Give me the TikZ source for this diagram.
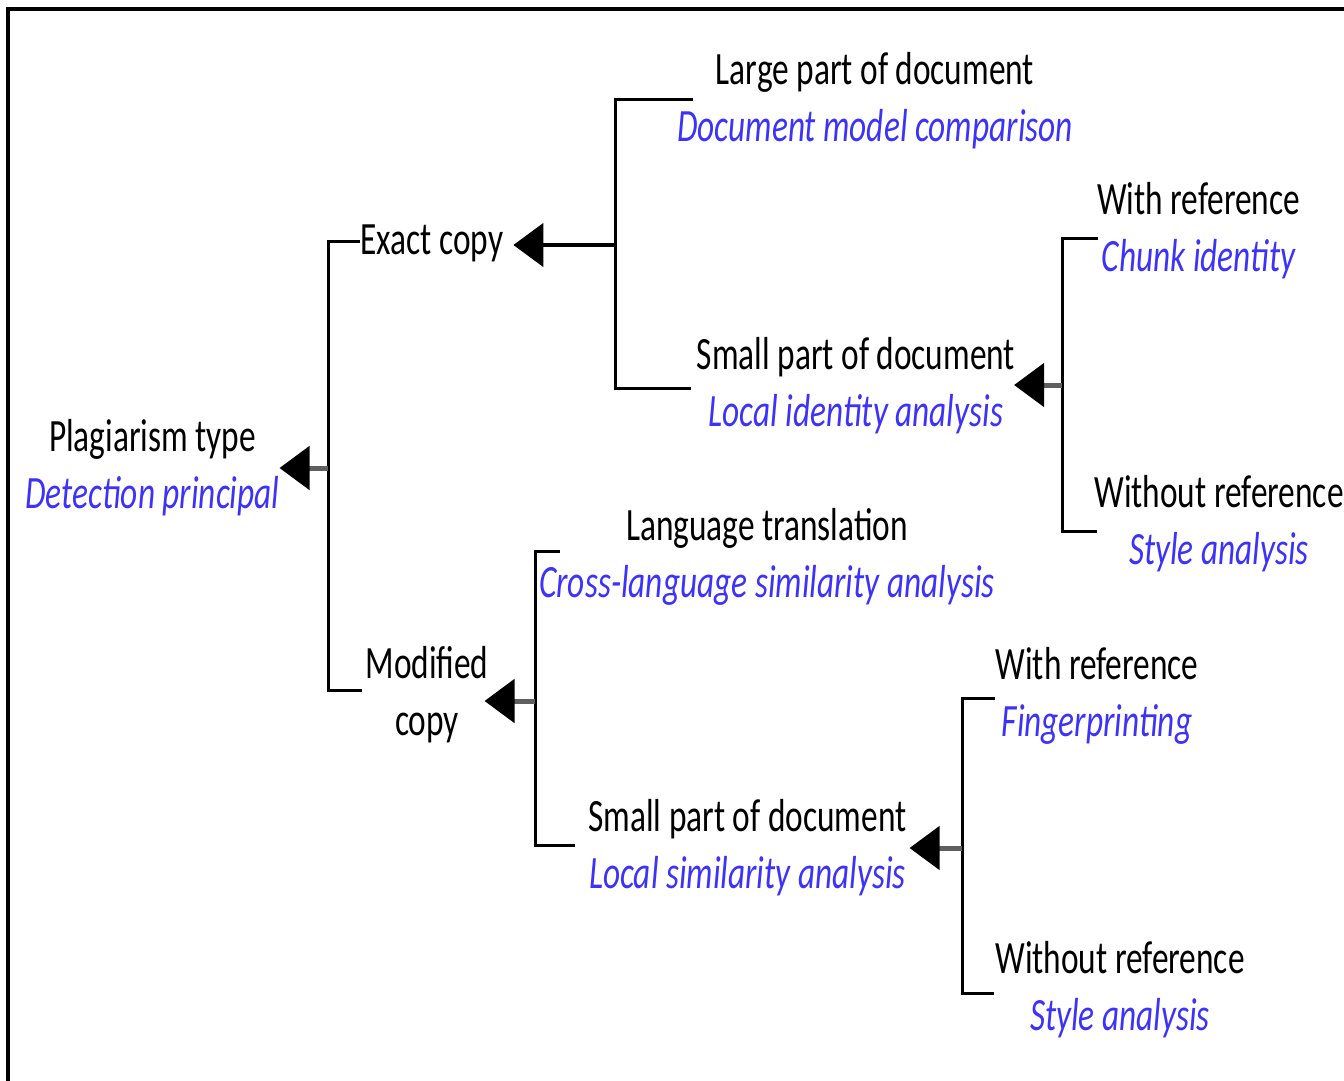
\documentclass[tikz,border=0pt]{standalone}
\usepackage{fontspec}
\setmainfont{Carlito}[FakeStretch=0.72]
\usetikzlibrary{arrows.meta,calc}
\definecolor{subblue}{RGB}{60,50,250}
\definecolor{shaftgray}{RGB}{95,95,95}
% title line in black, principle line in blue italics
\newcommand\twoline[2]{\strut #1\\\textcolor{subblue}{\itshape\strut #2}}

\begin{document}
\begin{tikzpicture}[x=1pt,y=-1pt,
  label/.style={inner sep=0pt, outer sep=0pt, align=center,
    font=\fontsize{46.3}{57}\selectfont},
  bar/.style={line width=3pt, line join=miter, line cap=butt},
  shaft/.style={line width=5pt, shaftgray,
    -{Triangle[length=30pt,width=43pt,color=black]}},
  frame/.style={line width=4pt}]

\clip (0,0) rectangle (1344,1081);
\draw[frame] (8,1100) -- (8,9) -- (1360,9);

% labels
\node[label] (root)     at (152.5,469) {\twoline{Plagiarism type}{Detection principal}};
\node[label] (exact)    at (432,243.5) {\strut Exact copy};
\node[label] (modified) at (427,696)   {\strut Modified\\\strut copy};
\node[label] (large)    at (875,102)   {\twoline{Large part of document}{Document model comparison}};
\node[label] (small1)   at (856,387)   {\twoline{Small part of document}{Local identity analysis}};
\node[label] (with1)    at (1198.5,232){\twoline{With reference}{Chunk identity}};
\node[label] (without1) at (1219,525)  {\twoline{Without reference}{Style analysis}};
\node[label] (lang)     at (767,558)   {\twoline{Language translation}{Cross-language similarity analysis}};
\node[label] (small2)   at (747.5,849) {\twoline{Small part of document}{Local similarity analysis}};
\node[label] (with2)    at (1097,697)  {\twoline{With reference}{Fingerprinting}};
\node[label] (without2) at (1120,991)  {\twoline{Without reference}{Style analysis}};

% branching points
\coordinate (j0) at (328,468);
\coordinate (j1) at (615,245);
\coordinate (j2) at (1062,385);
\coordinate (j3) at (535,701);
\coordinate (j4) at (962,848);

% brackets
\draw[bar] ($(exact.west)+(-1,-2.5)$) -| (j0) |- ($(modified.west)+(-4,-6)$);
\draw[bar] ($(large.west)+(16,-3)$) -| (j1) |- ($(small1.west)+(-6,1)$);
\draw[bar] ($(with1.west)+(1,6)$) -| (j2) |- ($(without1.west)+(3,6)$);
\draw[bar] ($(lang.west)+(21,-7)$) -| (j3) |- ($(small2.west)+(-13,-4)$);
\draw[bar] ($(with2.west)+(-1,1)$) -| (j4) |- ($(without2.west)+(-1,2)$);

% arrows back to the parent
\draw[shaft] (j0) -- (root.east |- j0);
\draw[shaft, black, line width=4.5pt] (j1) -- ($(exact.east |- j1)+(10,0)$);
\draw[shaft] (j2) -- ($(small1.east |- j2)+(-1,0)$);
\draw[shaft] (j3) -- ($(modified.east |- j3)+(-4,0)$);
\draw[shaft] (j4) -- ($(small2.east |- j4)+(3,0)$);
\end{tikzpicture}
\end{document}
